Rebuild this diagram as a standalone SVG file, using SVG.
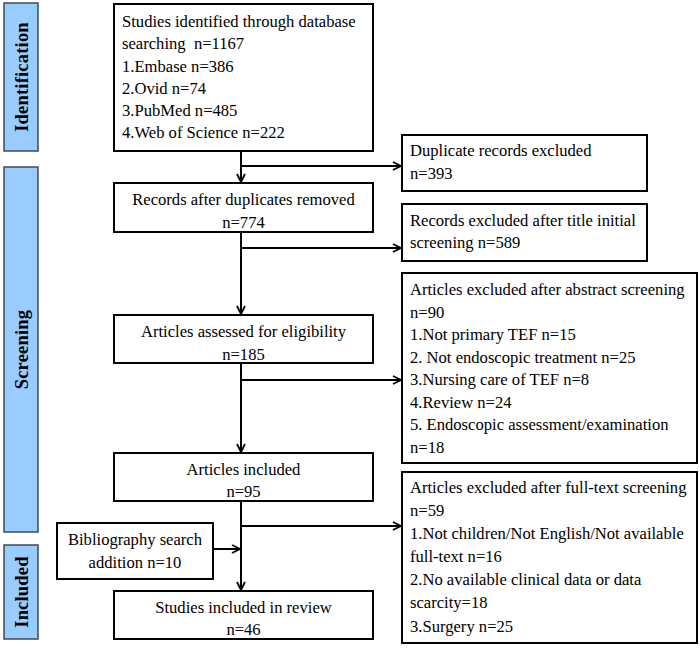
<svg xmlns="http://www.w3.org/2000/svg" width="700" height="648" viewBox="0 0 700 648">
<defs>
<style>
.box{fill:#fff;stroke:#000;stroke-width:2}
.side{fill:#99CCFF;stroke:#3F4A56;stroke-width:1.5}
.t{font-family:"Liberation Serif","Times New Roman",serif;font-size:16.6px;fill:#000}
.c{text-anchor:middle}
.s{font-family:"Liberation Serif","Times New Roman",serif;font-size:18.5px;font-weight:bold;fill:#000;text-anchor:middle;letter-spacing:0.2px}
.ln{fill:none;stroke:#000;stroke-width:2}
</style>
<marker id="ah" viewBox="0 0 10 10" refX="9" refY="5" markerWidth="10" markerHeight="10" markerUnits="userSpaceOnUse" orient="auto">
<path d="M1,1 L9,5 L1,9" fill="none" stroke="#000" stroke-width="1.8"/>
</marker>
</defs>
<rect width="700" height="648" fill="#fff"/>

<g id="phase-identification">
<rect class="side" x="4" y="3" width="34" height="148"/>
<text class="s" transform="translate(27.5,77) rotate(-90)">Identification</text>
</g>
<g id="phase-screening">
<rect class="side" x="4" y="167" width="34" height="365"/>
<text class="s" transform="translate(27.5,349.5) rotate(-90)">Screening</text>
</g>
<g id="phase-included">
<rect class="side" x="4" y="545" width="34" height="94"/>
<text class="s" transform="translate(27.5,592) rotate(-90)">Included</text>
</g>

<g id="connectors">
<line class="ln" x1="241" y1="151" x2="241" y2="182" marker-end="url(#ah)"/>
<line class="ln" x1="241" y1="166" x2="401" y2="166" marker-end="url(#ah)"/>
<line class="ln" x1="241" y1="232" x2="241" y2="314" marker-end="url(#ah)"/>
<line class="ln" x1="241" y1="248" x2="401" y2="248" marker-end="url(#ah)"/>
<line class="ln" x1="241" y1="363" x2="241" y2="452" marker-end="url(#ah)"/>
<line class="ln" x1="241" y1="380" x2="401" y2="380" marker-end="url(#ah)"/>
<line class="ln" x1="241" y1="501" x2="241" y2="590" marker-end="url(#ah)"/>
<line class="ln" x1="241" y1="526" x2="401" y2="526" marker-end="url(#ah)"/>
<line class="ln" x1="213" y1="549" x2="240" y2="549" marker-end="url(#ah)"/>
</g>

<g id="n-identified">
<rect class="box" x="114" y="4" width="259" height="147"/>
<text class="t" x="122" y="27">Studies identified through database</text>
<text class="t" x="122" y="49" xml:space="preserve">searching  n=1167</text>
<text class="t" x="122" y="71.5">1.Embase n=386</text>
<text class="t" x="122" y="93.5">2.Ovid n=74</text>
<text class="t" x="122" y="116">3.PubMed n=485</text>
<text class="t" x="122" y="138">4.Web of Science n=222</text>
</g>

<g id="n-duplicates">
<rect class="box" x="402" y="135" width="245" height="56"/>
<text class="t" x="410" y="156">Duplicate records excluded</text>
<text class="t" x="410" y="179">n=393</text>
</g>

<g id="n-records">
<rect class="box" x="114" y="183" width="259" height="49"/>
<text class="t c" x="243.5" y="205">Records after duplicates removed</text>
<text class="t c" x="243.5" y="228">n=774</text>
</g>

<g id="n-title-excluded">
<rect class="box" x="402" y="204" width="245" height="57"/>
<text class="t" x="410" y="226">Records excluded after title initial</text>
<text class="t" x="410" y="248">screening n=589</text>
</g>

<g id="n-assessed">
<rect class="box" x="114" y="315" width="259" height="48"/>
<text class="t c" x="243.5" y="337">Articles assessed for eligibility</text>
<text class="t c" x="243.5" y="360">n=185</text>
</g>

<g id="n-abstract-excluded">
<rect class="box" x="402" y="273" width="295" height="190"/>
<text class="t" x="410" y="295">Articles excluded after abstract screening</text>
<text class="t" x="410" y="317.5">n=90</text>
<text class="t" x="410" y="340">1.Not primary TEF n=15</text>
<text class="t" x="410" y="362.5">2. Not endoscopic treatment n=25</text>
<text class="t" x="410" y="385">3.Nursing care of TEF n=8</text>
<text class="t" x="410" y="407.5">4.Review n=24</text>
<text class="t" x="410" y="430">5. Endoscopic assessment/examination</text>
<text class="t" x="410" y="452.5">n=18</text>
</g>

<g id="n-included">
<rect class="box" x="114" y="453" width="259" height="48"/>
<text class="t c" x="243.5" y="475">Articles included</text>
<text class="t c" x="243.5" y="497">n=95</text>
</g>

<g id="n-fulltext-excluded">
<rect class="box" x="402" y="472" width="295" height="171"/>
<text class="t" x="410" y="493">Articles excluded after full-text screening</text>
<text class="t" x="410" y="515.5">n=59</text>
<text class="t" x="410" y="538.5">1.Not children/Not English/Not available</text>
<text class="t" x="410" y="562">full-text n=16</text>
<text class="t" x="410" y="585">2.No available clinical data or data</text>
<text class="t" x="410" y="608">scarcity=18</text>
<text class="t" x="410" y="631.5">3.Surgery n=25</text>
</g>

<g id="n-bibliography">
<rect class="box" x="57" y="523" width="156" height="56"/>
<text class="t c" x="135" y="545">Bibliography search</text>
<text class="t c" x="135" y="568">addition n=10</text>
</g>

<g id="n-final">
<rect class="box" x="114" y="591" width="259" height="48"/>
<text class="t c" x="243.5" y="613">Studies included in review</text>
<text class="t c" x="243.5" y="635">n=46</text>
</g>
</svg>
